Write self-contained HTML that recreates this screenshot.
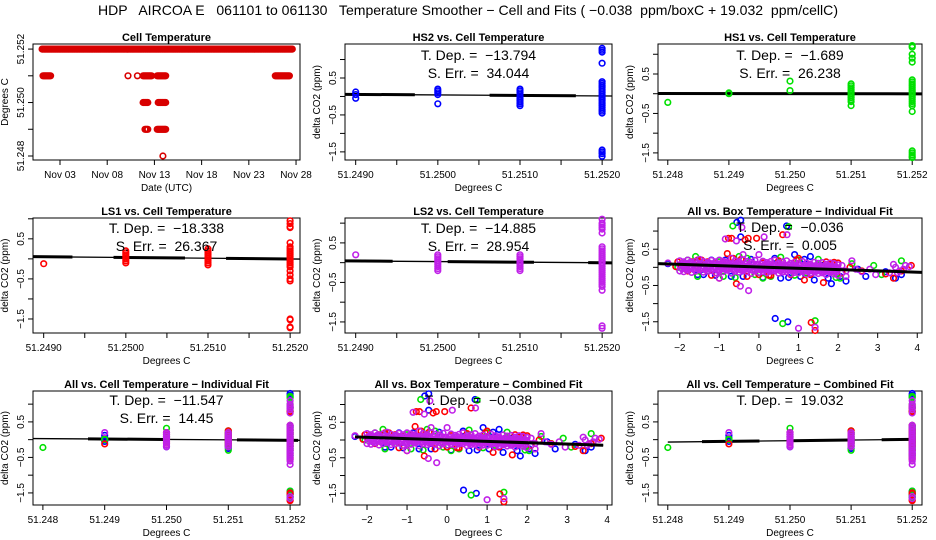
<!DOCTYPE html>
<html><head><meta charset="utf-8">
<style>
html,body{margin:0;padding:0;background:#fff;}
svg{display:block;font-family:"Liberation Sans",Arial,sans-serif;}
svg text{white-space:pre;}
</style></head>
<body>
<svg id="chart" width="936" height="540" viewBox="0 0 936 540" xmlns="http://www.w3.org/2000/svg" xml:space="preserve">
<text x="468" y="15" text-anchor="middle" font-size="14" textLength="740" lengthAdjust="spacingAndGlyphs">HDP   AIRCOA E   061101 to 061130   Temperature Smoother − Cell and Fits ( −0.038  ppm/boxC + 19.032  ppm/cellC)</text>
</svg>
<script>
// ---------- DATA ----------
const cellRunStart = [1.1, 1.2, 10.2, 11.2, 11.8, 13.3, 25.8, 11.8, 13.4, 12.0, 13.3, 13.9];
const cellRunEnd   = [27.6, 2.0, 10.2, 11.2, 12.7, 14.2, 27.3, 12.3, 14.2, 12.3, 14.2, 13.9];
const cellRunValue = [51.252, 51.251, 51.251, 51.251, 51.251, 51.251, 51.251, 51.250, 51.250, 51.249, 51.249, 51.248];
const dateTickDays = [3, 8, 13, 18, 23, 28];
const dateTickLabels = ["Nov 03", "Nov 08", "Nov 13", "Nov 18", "Nov 23", "Nov 28"];

const hs2X = [51.249,51.249,51.249,51.250,51.250,51.250,51.250,51.250,51.251,51.251,51.251,51.251,51.251,51.251,51.251,51.251,51.251,51.251,51.252,51.252,51.252,51.252,51.252,51.252,51.252,51.252,51.252,51.252,51.252,51.252,51.252,51.252,51.252,51.252,51.252,51.252,51.252,51.252,51.252,51.252,51.252,51.252,51.252,51.252];
const hs2Y = [0.12,0.05,-0.05,0.2,0.15,0.1,0.05,-0.2,0.2,0.15,0.1,0.05,0.0,-0.05,-0.1,-0.15,-0.2,-0.25,0.4,0.35,0.3,0.25,0.2,0.15,0.1,0.05,0.0,-0.05,-0.1,-0.15,-0.2,-0.25,-0.3,-0.35,-0.4,-0.45,1.3,1.25,1.2,0.9,-1.45,-1.5,-1.55,-1.62];
const hs1X = [51.248,51.249,51.249,51.250,51.250,51.251,51.251,51.251,51.251,51.251,51.251,51.251,51.251,51.251,51.251,51.251,51.252,51.252,51.252,51.252,51.252,51.252,51.252,51.252,51.252,51.252,51.252,51.252,51.252,51.252,51.252,51.252,51.252,51.252,51.252,51.252,51.252,51.252,51.252,51.252,51.252];
const hs1Y = [-0.22,0.02,0.0,0.32,0.08,0.25,0.2,0.15,0.1,0.05,0.0,-0.05,-0.1,-0.15,-0.2,-0.3,0.35,0.3,0.25,0.2,0.15,0.1,0.05,0.0,-0.05,-0.1,-0.15,-0.2,-0.25,-0.3,-0.45,1.22,1.18,1.0,0.9,0.8,-1.45,-1.5,-1.55,-1.6,-1.62];
const ls1X = [51.249,51.250,51.250,51.250,51.250,51.250,51.250,51.250,51.251,51.251,51.251,51.251,51.251,51.251,51.251,51.251,51.251,51.252,51.252,51.252,51.252,51.252,51.252,51.252,51.252,51.252,51.252,51.252,51.252,51.252,51.252,51.252,51.252,51.252,51.252,51.252,51.252,51.252,51.252,51.252,51.252];
const ls1Y = [-0.12,0.2,0.15,0.1,0.05,0.0,-0.05,-0.1,0.25,0.2,0.15,0.1,0.05,0.0,-0.05,-0.1,-0.15,0.4,0.3,0.25,0.2,0.15,0.1,0.05,0.0,-0.05,-0.1,-0.15,-0.2,-0.3,-0.4,-0.5,-0.55,0.95,0.88,0.8,0.78,-1.5,-1.52,-1.72,-1.7];
const ls2X = [51.249,51.250,51.250,51.250,51.250,51.250,51.250,51.250,51.250,51.250,51.251,51.251,51.251,51.251,51.251,51.251,51.251,51.251,51.251,51.252,51.252,51.252,51.252,51.252,51.252,51.252,51.252,51.252,51.252,51.252,51.252,51.252,51.252,51.252,51.252,51.252,51.252,51.252,51.252,51.252,51.252,51.252,51.252,51.252,51.252,51.252,51.252,51.252,51.252];
const ls2Y = [0.2,0.2,0.15,0.1,0.05,0.0,-0.05,-0.1,-0.15,-0.2,0.2,0.15,0.1,0.05,0.0,-0.05,-0.1,-0.15,-0.2,0.4,0.35,0.3,0.25,0.2,0.15,0.1,0.05,0.0,-0.05,-0.1,-0.15,-0.2,-0.25,-0.3,-0.35,-0.4,-0.45,-0.5,-0.55,-0.6,-0.7,1.1,1.0,0.95,0.9,0.85,0.75,-1.6,-1.66];

const blueBX = [-2.3,-1.85,-1.7,-1.55,-1.2,-1.1,-0.85,-0.56,-0.46,-0.46,-0.4,-0.2,0.1,0.4,0.7,0.75,0.9,1.05,1.3,1.4,1.83,2.2,2.5,2.7,3.2,3.45,3.6,0.41,0.73,-0.6,0.2,1.6,-1.4,-0.7,0.55,1.15,1.75,2.05];
const blueBY = [0.1,-0.05,0.12,-0.2,0.2,-0.22,0.2,1.24,1.3,0.84,-0.25,0.22,-0.28,0.25,1.14,-0.28,0.35,-0.25,0.3,-0.35,-0.45,-0.38,-0.05,-0.25,-0.12,-0.3,-0.2,-1.41,-1.5,0.05,0.0,0.05,-0.2,-0.25,-0.3,0.22,-0.3,-0.25];
const greenBX = [-2.05,-1.6,-1.55,-1.3,-0.9,-0.66,-0.6,-0.5,-0.1,0.1,0.55,0.75,1.0,1.2,1.7,2.05,2.35,2.9,3.1,3.6,0.6,1.42,-1.0,2.6,-1.8,-0.3,0.3,0.9,1.5,1.95];
const greenBY = [0.0,0.3,-0.25,-0.1,-0.25,1.14,-0.28,0.3,-0.2,-0.3,0.28,1.12,0.2,-0.15,-0.05,-0.3,0.1,0.05,-0.2,0.18,-1.55,-1.47,0.15,-0.1,0.2,0.25,-0.25,-0.22,0.22,-0.28];
const redBX = [-2.1,-2.05,-1.95,-1.8,-1.6,-1.45,-1.3,-1.1,-1.0,-0.9,-0.8,-0.77,-0.69,-0.57,-0.5,-0.35,-0.27,-0.3,-0.06,0.0,0.1,0.3,0.6,0.5,0.8,1.0,1.15,1.3,1.45,1.63,1.7,1.85,2.0,2.1,2.3,2.6,3.2,3.4,3.6,3.85,1.32,1.42,-1.55,-0.65,-1.7,-1.2,-0.45,0.25,0.95,1.9];
const redBY = [0.02,0.15,0.12,-0.1,0.05,0.2,0.15,0.1,-0.3,0.12,0.38,0.8,0.8,-0.45,0.15,0.76,0.8,-0.25,0.8,-0.2,0.12,-0.22,0.9,0.18,-0.2,0.25,-0.35,-0.2,0.05,-0.42,0.15,0.1,0.12,-0.15,0.0,-0.1,-0.18,-0.3,-0.1,0.05,-1.52,-1.74,0.2,0.25,0.15,-0.22,0.22,-0.22,0.2,0.14];
const magBandX = [-2.0,-1.9,-1.8,-1.7,-1.6,-1.5,-1.4,-1.3,-1.2,-1.1,-1.0,-0.9,-0.8,-0.7,-0.6,-0.5,-0.4,-0.3,-0.2,-0.1,0.0,0.1,0.2,0.3,0.4,0.5,0.6,0.7,0.8,0.9,1.0,1.1,1.2,1.3,1.4,1.5,1.6,1.7,1.8,1.9,2.0];
const magBandTopY = [0.18,0.15,0.2,0.14,0.17,0.22,0.16,0.13,0.19,0.15,0.2,0.17,0.14,0.25,0.18,0.15,0.21,0.16,0.14,0.19,0.35,0.17,0.13,0.16,0.2,0.12,0.15,0.18,0.11,0.14,0.1,0.16,0.12,0.09,0.14,0.11,0.13,0.08,0.12,0.1,0.07];
const magBandMidY = [0.05,0.02,0.06,0.0,0.04,0.07,0.03,0.01,0.05,0.0,0.04,0.02,0.06,0.01,0.03,0.0,0.05,0.02,-0.01,0.03,0.0,0.02,-0.02,0.01,0.04,-0.01,0.0,0.02,-0.03,0.01,-0.02,0.0,-0.04,-0.01,0.01,-0.03,-0.02,-0.05,0.0,-0.03,-0.04];
const magBandBotY = [-0.1,-0.12,-0.08,-0.14,-0.1,-0.07,-0.13,-0.11,-0.09,-0.15,-0.1,-0.12,-0.08,-0.16,-0.11,-0.13,-0.09,-0.12,-0.17,-0.1,-0.14,-0.12,-0.15,-0.11,-0.1,-0.16,-0.13,-0.12,-0.18,-0.14,-0.15,-0.12,-0.19,-0.16,-0.13,-0.17,-0.15,-0.2,-0.14,-0.18,-0.22];
const magHalfX = [-1.95,-1.85,-1.75,-1.65,-1.55,-1.45,-1.35,-1.25,-1.15,-1.05,-0.95,-0.85,-0.75,-0.65,-0.55,-0.45,-0.35,-0.25,-0.15,-0.05,0.05,0.15,0.25,0.35,0.45,0.55,0.65,0.75,0.85,0.95,1.05,1.15,1.25,1.35,1.45,1.55,1.65,1.75,1.85,1.95];
const magHalfUpY = [0.11,0.1,0.13,0.09,0.12,0.1,0.08,0.12,0.1,0.09,0.11,0.13,0.08,0.1,0.12,0.09,0.1,0.07,0.11,0.08,0.09,0.07,0.1,0.06,0.08,0.09,0.05,0.07,0.08,0.04,0.06,0.05,0.07,0.03,0.05,0.04,0.02,0.05,0.03,0.01];
const magHalfLoY = [-0.03,-0.05,-0.02,-0.06,-0.04,-0.03,-0.07,-0.04,-0.05,-0.08,-0.04,-0.06,-0.03,-0.07,-0.05,-0.08,-0.06,-0.04,-0.09,-0.06,-0.07,-0.05,-0.09,-0.07,-0.06,-0.1,-0.08,-0.07,-0.11,-0.09,-0.08,-0.1,-0.12,-0.09,-0.11,-0.1,-0.13,-0.11,-0.12,-0.14];
const magExtraX = [-2.3,-0.4,-0.85,-0.82,-0.57,0.13,0.71,-0.47,-0.26,2.35,2.6,2.95,3.45,3.55,3.65,3.8,1.0,1.42,-0.43,-1.0,2.2,2.8,3.3,2.1,2.2,2.45,3.4,3.5,3.7];
const magExtraY = [0.12,0.35,0.78,-0.05,0.73,0.84,0.9,-0.52,-0.64,0.18,-0.12,-0.2,0.0,-0.1,-0.05,0.02,-1.68,-1.65,1.1,-0.3,-0.25,-0.05,-0.15,0.05,-0.1,-0.05,0.08,-0.15,0.05];

const cellFitSlope = {hs2:-13.794, hs1:-1.689, ls1:-18.338, ls2:-14.885, allInd:-11.547, allComb:19.032};
const cellFitMid = {hs2:0.035, hs1:0.0, ls1:0.025, ls2:0.02, allInd:0.0, allComb:-0.02};
const boxFitSlopeInd = -0.036;
const boxFitSlopeComb = -0.038;

// ---------- DRAWING ----------
const NS = "http://www.w3.org/2000/svg";
const svg = document.getElementById("chart");
const COLORS = {blue:"#0000ff", green:"#00e000", red:"#ff0000", mag:"#c020e8"};
function mk(tag, attrs, parent){
  const e = document.createElementNS(NS, tag);
  for (const k in attrs) e.setAttribute(k, attrs[k]);
  (parent||svg).appendChild(e);
  return e;
}
function txt(parent, x, y, s, size, opts){
  opts = opts||{};
  const t = mk("text", {x:x, y:y, "font-size":size, "text-anchor":opts.anchor||"middle"}, parent);
  if (opts.bold) t.setAttribute("font-weight","bold");
  if (opts.rot) t.setAttribute("transform","rotate(-90 "+x+" "+y+")");
  t.textContent = s;
  return t;
}
function panel(name, box, xdom, ydom){
  const g = mk("g", {}, svg);
  
  
  const sx = v => box.l + (v - xdom[0]) / (xdom[1] - xdom[0]) * (box.r - box.l);
  const sy = v => box.b - (v - ydom[0]) / (ydom[1] - ydom[0]) * (box.b - box.t);
  return {g, sx, sy, box};
}
function frame(p, title, xlabel, ylabel){
  const b = p.box;
  const r = mk("rect", {x:b.l, y:b.t, width:b.r-b.l, height:b.b-b.t, fill:"none", stroke:"#000", "stroke-width":1}, p.g);
  
  
  const t = txt(p.g, (b.l+b.r)/2, b.t-3, title, 11, {bold:true});
  
  
  const xl = txt(p.g, (b.l+b.r)/2, b.b+31, xlabel, 10);
  
  
  const yl = txt(p.g, b.l-25, (b.t+b.b)/2, ylabel, 10, {rot:true});
  
  
}
function xticks(p, vals, labels){
  vals.forEach((v,i)=>{
    const x = p.sx(v);
    mk("line", {x1:x, x2:x, y1:p.box.b, y2:p.box.b+5, stroke:"#000"}, p.g);
    if (labels[i]) {
      const t = txt(p.g, x, p.box.b+18, labels[i], 10);
      
      
    }
  });
}
function yticks(p, vals, labels){
  vals.forEach((v,i)=>{
    const y = p.sy(v);
    mk("line", {x1:p.box.l-5, x2:p.box.l, y1:y, y2:y, stroke:"#000"}, p.g);
    if (labels[i]) {
      const t = txt(p.g, p.box.l-9, y, labels[i], 10, {rot:true});
      
      
    }
  });
}
function points(p, xs, ys, color, name){
  const g = mk("g", {fill:"none", stroke:color, "stroke-width":1.6}, p.g);
  
  
  xs.forEach((x,i)=>{
    const c = mk("circle", {cx:p.sx(x).toFixed(1), cy:p.sy(ys[i]).toFixed(1), r:2.8}, g);
    
    
  });
}
function fitLine(p, xdom, slope, mid, x0, thick){
  const f = x => mid + slope*(x - x0);
  const l = mk("line", {x1:p.sx(xdom[0]), x2:p.sx(xdom[1]), y1:p.sy(f(xdom[0])), y2:p.sy(f(xdom[1])), stroke:"#000", "stroke-width":1.3}, p.g);
  
  
  thick.forEach(s=>{
    const t = mk("line", {x1:p.sx(s[0]), x2:p.sx(s[1]), y1:p.sy(f(s[0])), y2:p.sy(f(s[1])), stroke:"#000", "stroke-width":3}, p.g);
    
    
  });
}
function annot(p, lines, y0){
  lines.forEach((s,i)=>{
    const t = txt(p.g, (p.box.l+p.box.r)/2, y0 + i*18, s, 14);
    
    
  });
}

const deltaTicks = [-1.5,-1,-0.5,0,0.5,1];
const deltaLabels = ["−1.5","","−0.5","","0.5",""];
const cellTicks4 = [51.249,51.2495,51.250,51.2505,51.251,51.2515,51.252];
const cellLabels4 = ["51.2490","","51.2500","","51.2510","","51.2520"];
const cellTicks3 = [51.248,51.249,51.250,51.251,51.252];
const cellLabels3 = ["51.248","51.249","51.250","51.251","51.252"];
const boxTicks = [-2,-1,0,1,2,3,4];
const boxLabels = ["−2","−1","0","1","2","3","4"];
const XD4 = [51.24887, 51.25212], XD3 = [51.24784, 51.25216], XDB = [-2.55, 4.12];
const X0 = 51.2505;
const C1 = {l:33,r:300}, C2 = {l:345,r:612}, C3 = {l:658,r:922};
const R1 = {t:44,b:160}, R2 = {t:218,b:333}, R3 = {t:391,b:505};
const B = (c,r)=>({l:c.l, r:c.r, t:r.t, b:r.b});

{
  const p = panel("cell-temperature-panel", B(C1,R1), [0.14, 28.42], [51.24785, 51.25219]);
  frame(p, "Cell Temperature", "Date (UTC)", "Degrees C");
  xticks(p, dateTickDays, dateTickLabels);
  yticks(p, [51.248,51.249,51.250,51.251,51.252], ["51.248","","51.250","","51.252"]);
  const xs = [], ys = [];
  cellRunStart.forEach((s,i)=>{
    for (let d = s; d <= cellRunEnd[i] + 1e-9; d += 0.1) { xs.push(d); ys.push(cellRunValue[i]); }
  });
  points(p, xs, ys, "#d80000", "cell-temperature-series");
}
{
  const p = panel("hs2-panel", B(C2,R1), XD4, [-1.72, 1.42]);
  frame(p, "HS2 vs. Cell Temperature", "Degrees C", "delta CO2 (ppm)");
  xticks(p, cellTicks4, cellLabels4); yticks(p, deltaTicks, deltaLabels);
  fitLine(p, XD4, cellFitSlope.hs2, cellFitMid.hs2, X0, [[51.24887,51.24972],[51.25063,51.25168]]);
  points(p, hs2X, hs2Y, COLORS.blue, "hs2-points");
  annot(p, ["T. Dep. =  −13.794", "S. Err. =  34.044"], 60);
}
{
  const p = panel("hs1-panel", B(C3,R1), XD3, [-1.68, 1.26]);
  frame(p, "HS1 vs. Cell Temperature", "Degrees C", "delta CO2 (ppm)");
  xticks(p, cellTicks3, cellLabels3); yticks(p, deltaTicks, deltaLabels);
  fitLine(p, XD3, cellFitSlope.hs1, cellFitMid.hs1, X0, [[51.24784,51.25216]]);
  points(p, hs1X, hs1Y, COLORS.green, "hs1-points");
  annot(p, ["T. Dep. =  −1.689", "S. Err. =  26.238"], 60);
}
{
  const p = panel("ls1-panel", B(C1,R2), XD4, [-1.85, 1.02]);
  frame(p, "LS1 vs. Cell Temperature", "Degrees C", "delta CO2 (ppm)");
  xticks(p, cellTicks4, cellLabels4); yticks(p, deltaTicks, deltaLabels);
  fitLine(p, XD4, cellFitSlope.ls1, cellFitMid.ls1, X0, [[51.24887,51.24935],[51.24985,51.25072],[51.25122,51.2520]]);
  points(p, ls1X, ls1Y, COLORS.red, "ls1-points");
  annot(p, ["T. Dep. =  −18.338", "S. Err. =  26.367"], 233);
}
{
  const p = panel("ls2-panel", B(C2,R2), XD4, [-1.78, 1.13]);
  frame(p, "LS2 vs. Cell Temperature", "Degrees C", "delta CO2 (ppm)");
  xticks(p, cellTicks4, cellLabels4); yticks(p, deltaTicks, deltaLabels);
  fitLine(p, XD4, cellFitSlope.ls2, cellFitMid.ls2, X0, [[51.24887,51.24945],[51.25012,51.25117],[51.25183,51.25212]]);
  points(p, ls2X, ls2Y, COLORS.mag, "ls2-points");
  annot(p, ["T. Dep. =  −14.885", "S. Err. =  28.954"], 233);
}
function boxCloud(p){
  points(p, blueBX, blueBY, COLORS.blue, "blue-series");
  points(p, greenBX, greenBY, COLORS.green, "green-series");
  points(p, redBX, redBY, COLORS.red, "red-series");
  points(p, magBandX, magBandTopY, COLORS.mag, "magenta-series-upper");
  points(p, magHalfX, magHalfUpY, COLORS.mag, "magenta-series-upper-mid");
  points(p, magBandX, magBandMidY, COLORS.mag, "magenta-series-middle");
  points(p, magHalfX, magHalfLoY, COLORS.mag, "magenta-series-lower-mid");
  points(p, magBandX, magBandBotY, COLORS.mag, "magenta-series-lower");
  points(p, magExtraX, magExtraY, COLORS.mag, "magenta-series-extra");
}
{
  const p = panel("all-vs-box-individual-panel", B(C3,R2), XDB, [-1.81, 1.36]);
  frame(p, "All vs. Box Temperature − Individual Fit", "Degrees C", "delta CO2 (ppm)");
  xticks(p, boxTicks, boxLabels); yticks(p, deltaTicks, deltaLabels);
  boxCloud(p);
  fitLine(p, XDB, boxFitSlopeInd, 0.01, 0, [[-2.55,4.12]]);
  annot(p, ["T. Dep. =  −0.036", "S. Err. =  0.005"], 232);
}
{
  const p = panel("all-vs-cell-individual-panel", B(C1,R3), XD3, [-1.84, 1.37]);
  frame(p, "All vs. Cell Temperature − Individual Fit", "Degrees C", "delta CO2 (ppm)");
  xticks(p, cellTicks3, cellLabels3); yticks(p, deltaTicks, deltaLabels);
  fitLine(p, XD3, cellFitSlope.allInd, cellFitMid.allInd, X0, [[51.24873,51.24998],[51.25114,51.25213]]);
  points(p, hs2X, hs2Y, COLORS.blue, "hs2-points");
  points(p, hs1X, hs1Y, COLORS.green, "hs1-points");
  points(p, ls1X, ls1Y, COLORS.red, "ls1-points");
  points(p, ls2X, ls2Y, COLORS.mag, "ls2-points");
  annot(p, ["T. Dep. =  −11.547", "S. Err. =  14.45"], 405);
}
{
  const p = panel("all-vs-box-combined-panel", B(C2,R3), XDB, [-1.83, 1.38]);
  frame(p, "All vs. Box Temperature − Combined Fit", "Degrees C", "delta CO2 (ppm)");
  xticks(p, boxTicks, boxLabels); yticks(p, deltaTicks, deltaLabels);
  boxCloud(p);
  fitLine(p, [-2.3,3.9], boxFitSlopeComb, 0.0, 0, [[-2.3,3.9]]);
  annot(p, ["T. Dep. =  −0.038"], 405);
}
{
  const p = panel("all-vs-cell-combined-panel", B(C3,R3), XD3, [-1.84, 1.37]);
  frame(p, "All vs. Cell Temperature − Combined Fit", "Degrees C", "delta CO2 (ppm)");
  xticks(p, cellTicks3, cellLabels3); yticks(p, deltaTicks, deltaLabels);
  fitLine(p, [51.248,51.252], cellFitSlope.allComb, cellFitMid.allComb, X0, [[51.24856,51.2495],[51.25001,51.25099],[51.2515,51.25198]]);
  points(p, hs2X, hs2Y, COLORS.blue, "hs2-points");
  points(p, hs1X, hs1Y, COLORS.green, "hs1-points");
  points(p, ls1X, ls1Y, COLORS.red, "ls1-points");
  points(p, ls2X, ls2Y, COLORS.mag, "ls2-points");
  annot(p, ["T. Dep. =  19.032"], 405);
}
</script>
</body></html>
